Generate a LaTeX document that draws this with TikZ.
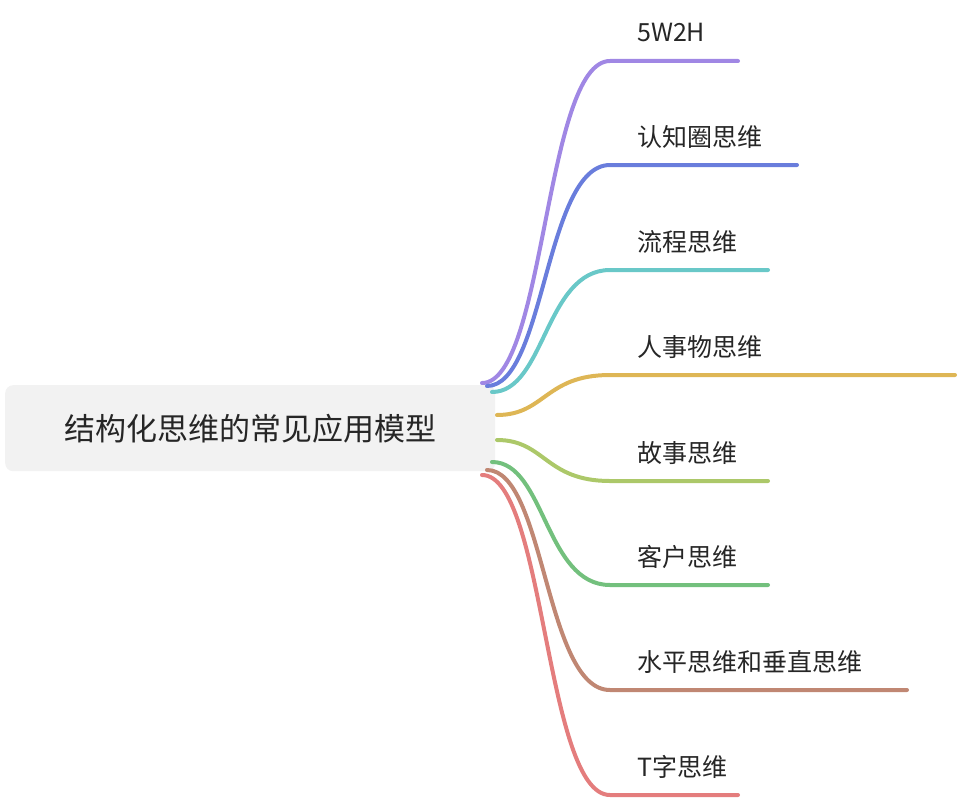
\documentclass[tikz,border=0pt]{standalone}
\usepackage{fontspec}
\setmainfont{Noto Sans CJK SC}
\begin{document}
\begin{tikzpicture}[x=1pt,y=-1pt,
  lab/.style={anchor=west,inner sep=0pt,font=\fontsize{25}{25}\selectfont,text=black!85},
  br/.style={line width=4pt,line cap=round}]
\useasboundingbox (0,0) rectangle (958,800);
\definecolor{c1}{RGB}{160,135,228}
\definecolor{c2}{RGB}{105,125,220}
\definecolor{c3}{RGB}{105,200,200}
\definecolor{c4}{RGB}{222,182,85}
\definecolor{c5}{RGB}{172,200,105}
\definecolor{c6}{RGB}{115,192,125}
\definecolor{c7}{RGB}{192,135,115}
\definecolor{c8}{RGB}{228,125,125}
\node[fill=black!5,rounded corners=8pt,minimum width=490pt,minimum height=86pt,anchor=north west,
  font=\fontsize{31}{31}\selectfont,text=black!85] (root) at (5,385) {结构化思维的常见应用模型};
\foreach \i/\sx/\sy/\y/\ex/\t in {
 1/482/383/61/738/5W2H,
 2/487/386/165/797/认知圈思维,
 3/492/392/270/768/流程思维,
 4/497/415/375/955/人事物思维,
 5/497/440/481/768/故事思维,
 6/492/462/585/768/客户思维,
 7/487/470/690/907/水平思维和垂直思维,
 8/482/475/795/738/T字思维}{
 \coordinate (s\i) at (\sx,\sy);
 \coordinate (m\i) at (610,\y);
 \coordinate (e\i) at (\ex,\y);
 \node[lab] (l\i) at (637,\y-28) {\t};
 \draw[br,c\i] (s\i) .. controls (545,\sy) and (545,\y) .. (m\i) -- (e\i);
}
\end{tikzpicture}
\end{document}
